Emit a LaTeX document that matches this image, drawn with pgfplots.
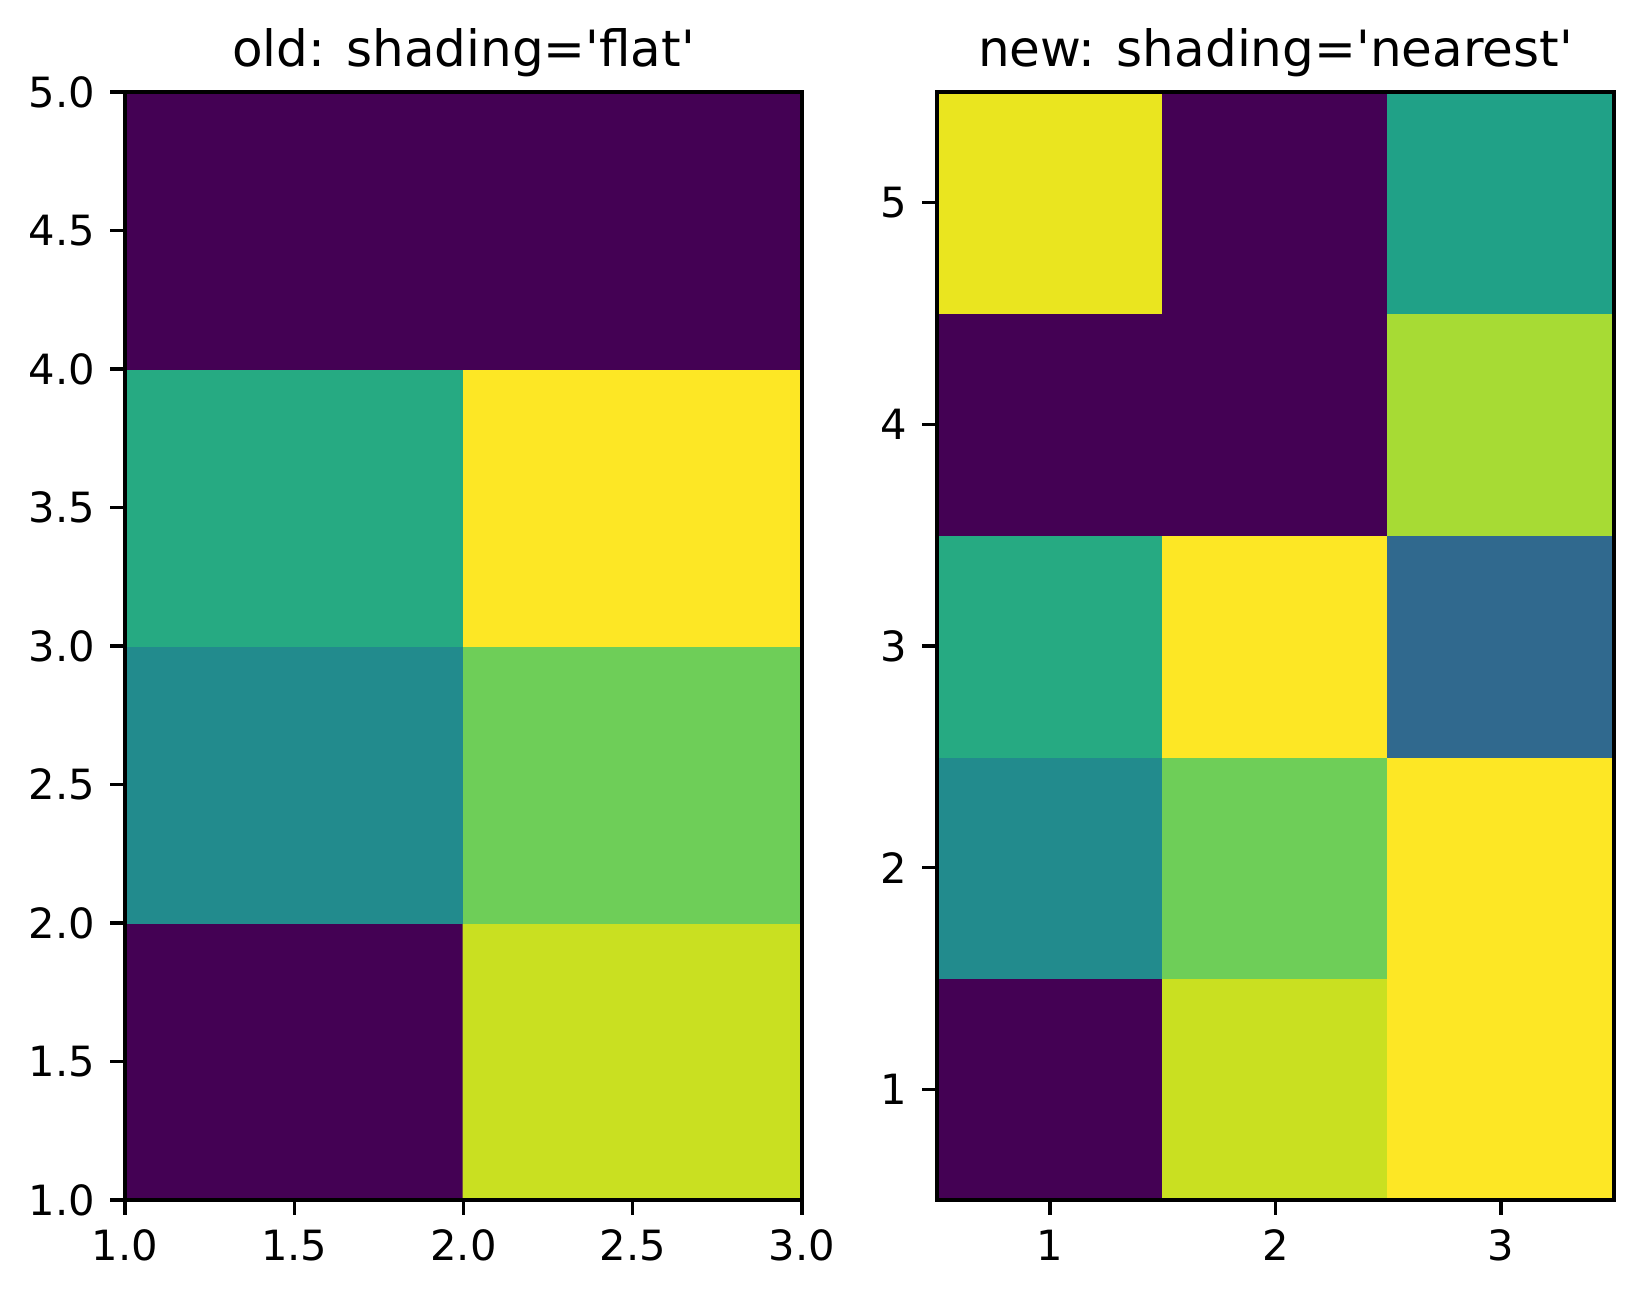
\documentclass[border=0pt]{standalone}
\usepackage{pgfplots}
\usepackage{pgfplotstable}
\pgfplotsset{compat=1.18}
\usepackage{fontspec}
\setmainfont{DejaVu Sans}[Ligatures=TeXOff]

\pgfplotstableread{
x y c
1.5 1.5 0
2.5 1.5 0.92
1.5 2.5 0.48
2.5 2.5 0.78
1.5 3.5 0.61
2.5 3.5 1
1.5 4.5 0
2.5 4.5 0
}\dataold

\pgfplotstableread{
x y c
1 1 0
2 1 0.92
3 1 1
1 2 0.48
2 2 0.78
3 2 1
1 3 0.61
2 3 1
3 3 0.34
1 4 0
2 4 0
3 4 0.87
1 5 0.97
2 5 0
3 5 0.57
}\datanew

\pgfplotsset{mpl/.style={
  scale only axis, width=162.48pt, height=265.92pt, anchor=south west,
  colormap/viridis, point meta min=0, point meta max=1,
  axis on top, tick align=outside, tick pos=left,
  major tick length=3.5pt,
  major tick style={line width=0.8pt, black},
  axis line style={line width=0.8pt, black},
  tick label style={font=\fontsize{10}{12}\selectfont, inner sep=0pt},
  xticklabel shift=3.5pt, yticklabel shift=3.5pt,
  /pgf/number format/assume math mode=true,
  every axis title/.style={at={(0.5,1)}, anchor=base, yshift=6pt, inner sep=0pt, font=\fontsize{12}{14}\selectfont},
  enlargelimits=false, scaled ticks=false,
}}

\begin{document}
\begin{tikzpicture}
\path[use as bounding box] (-30pt,-24pt) rectangle (364.32pt,288pt);
\begin{axis}[mpl, at={(0pt,0pt)},
  xmin=1, xmax=3, ymin=1, ymax=5,
  xtick={1,1.5,2,2.5,3}, ytick={1,1.5,2,2.5,3,3.5,4,4.5,5},
  /pgf/number format/fixed, /pgf/number format/fixed zerofill, /pgf/number format/precision=1,
  title={old: shading='flat'}]
\addplot[matrix plot*, mesh/cols=2, point meta=explicit] table[x=x, y=y, meta=c] {\dataold};
\end{axis}
\begin{axis}[mpl, at={(194.88pt,0pt)},
  xmin=0.5, xmax=3.5, ymin=0.5, ymax=5.5,
  xtick={1,2,3}, ytick={1,2,3,4,5},
  title={new: shading='nearest'}]
\addplot[matrix plot*, mesh/cols=3, point meta=explicit] table[x=x, y=y, meta=c] {\datanew};
\end{axis}
\end{tikzpicture}
\end{document}
